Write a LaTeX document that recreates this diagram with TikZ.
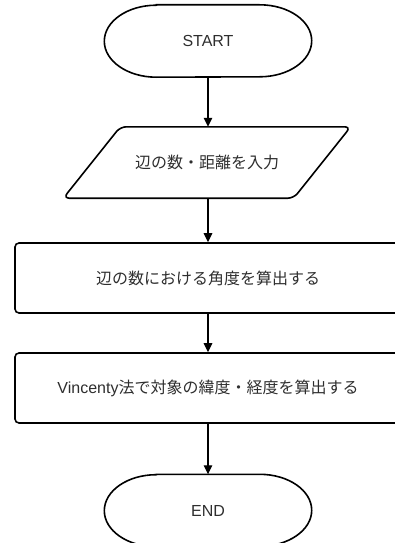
\documentclass[tikz,border=0pt]{standalone}
\usepackage{fontspec}
\setmainfont{Liberation Sans}
\newfontfamily\jp{Noto Sans CJK JP}
\usetikzlibrary{arrows.meta,calc}
\begin{document}
\begin{tikzpicture}[x=1pt,y=-1pt,
  box/.style={minimum width=386pt,minimum height=70pt,draw,line width=1.6pt,rounded corners=4pt,inner sep=0pt},
  term/.style={minimum width=207pt,minimum height=72pt,inner sep=0pt},
  io/.style={minimum width=230pt,minimum height=71pt,inner sep=0pt},
  txt/.style={text=black!82,font=\fontsize{16}{19}\selectfont},
  outline/.style={draw,line width=1.6pt},
  arr/.style={-{Triangle[length=9pt,width=8.5pt]},line width=1.2pt}]
\useasboundingbox (0,0) rectangle (395,543);
\clip (0,0) rectangle (395,543);
% START
\node[term,txt] (start) at (208,41) {START};
\draw[outline] ($(start.north west)+(52,0)$) -- ($(start.north east)+(-52,0)$)
  arc[start angle=90,end angle=-90,x radius=52pt,y radius=36pt]
  -- ($(start.south west)+(52,0)$)
  arc[start angle=270,end angle=90,x radius=52pt,y radius=36pt] -- cycle;
% input
\node[io,txt] (input) at (207,162.5) {\jp 辺の数・距離を入力};
\draw[outline,rounded corners=6pt] ($(input.north west)+(28.5,0)$) -- ($(input.north east)+(28.5,0)$)
  -- ($(input.south east)+(-28.5,0)$) -- ($(input.south west)+(-28.5,0)$) -- cycle;
% process boxes
\node[box,txt] (calcA) at (208,278) {\jp 辺の数における角度を算出する};
\node[box,txt] (calcB) at (208,388) {Vincenty{\jp 法で対象の緯度・経度を算出する}};
% END
\node[term,txt] (stop) at (208,510.5) {END};
\draw[outline] ($(stop.north west)+(52,0)$) -- ($(stop.north east)+(-52,0)$)
  arc[start angle=90,end angle=-90,x radius=52pt,y radius=36pt]
  -- ($(stop.south west)+(52,0)$)
  arc[start angle=270,end angle=90,x radius=52pt,y radius=36pt] -- cycle;
% arrows
\draw[arr] (start.south) -- (start.south |- input.north);
\draw[arr] (start.south |- input.south) -- (calcA.north);
\draw[arr] (calcA.south) -- (calcB.north);
\draw[arr] (calcB.south) -- (stop.north);
\end{tikzpicture}
\end{document}
